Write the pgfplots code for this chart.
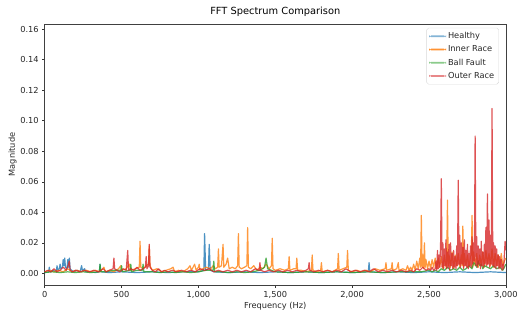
\documentclass[border=0pt]{standalone}
\usepackage{pgfplots}
\pgfplotsset{compat=1.18}
\usepackage{fontspec}
\setmainfont{DejaVu Sans}
\definecolor{tabblue}{HTML}{1F77B4}
\definecolor{taborange}{HTML}{FF7F0E}
\definecolor{tabgreen}{HTML}{2CA02C}
\definecolor{tabred}{HTML}{D62728}
\begin{document}
\begin{tikzpicture}
\begin{axis}[
  name=ax,
  scale only axis,
  width=464pt, height=263pt,
  xmin=0, xmax=3000,
  ymin=-0.0078, ymax=0.1635,
  xtick={0,500,1000,1500,2000,2500,3000},
  ytick={0,0.02,0.04,0.06,0.08,0.10,0.12,0.14,0.16},
  yticklabel style={/pgf/number format/fixed,/pgf/number format/precision=2,/pgf/number format/fixed zerofill},
  scaled y ticks=false,
  /pgf/number format/assume math mode=true,
  tick pos=left,
  tick align=outside,
  major tick length=2.5pt,
  tick style={black!80, line width=0.5pt},
  axis line style={black!75, line width=0.6pt},
  ticklabel style={font=\fontsize{8.3}{9}\selectfont, text=black!85},
  title={FFT Spectrum Comparison},
  title style={font=\fontsize{9.9}{11}\selectfont, yshift=-2pt},
  xlabel={Frequency (Hz)},
  ylabel={Magnitude},
  label style={font=\fontsize{8.3}{9}\selectfont, text=black!85},
  xlabel style={yshift=3pt},
  ylabel style={yshift=-3pt},
  legend style={at={(0.985,0.985)}, anchor=north east, draw=black!15, rounded corners=2pt,
    fill=white, font=\fontsize{8.3}{9}\selectfont, text=black!85,
    row sep=1.6pt, inner sep=2.5pt},
  legend cell align=left,
  legend image code/.code={\fill (0pt,-0.9pt) rectangle (17pt,0.9pt);},
  every axis plot/.append style={line width=1.2pt, draw opacity=0.8, line join=round},
]
\addlegendimage{fill=tabblue!55, draw=none}
\addlegendentry{Healthy}
\addlegendimage{fill=taborange!85, draw=none}
\addlegendentry{Inner Race}
\addlegendimage{fill=tabgreen!55, draw=none}
\addlegendentry{Ball Fault}
\addlegendimage{fill=tabred!55, draw=none}
\addlegendentry{Outer Race}
\addplot[tabblue, forget plot] table {
x y
0 0.0005
25 0.001
30 0.004
35 0.001
55 0.002
75 0.001
80 0.005
85 0.002
95 0.003
100 0.006
105 0.003
115 0.004
120 0.009
125 0.005
130 0.010
135 0.004
145 0.003
150 0.009
155 0.004
160 0.010
165 0.003
175 0.002
190 0.001
210 0.002
230 0.001
240 0.005
245 0.002
260 0.003
265 0.001
300 0.001
330 0.0005
355 0.001
360 0.006
365 0.001
420 0.0005
500 0.001
600 0.0005
700 0.001
800 0.0005
900 0.001
1000 0.001
1035 0.002
1040 0.026
1047 0.002
1065 0.003
1070 0.019
1077 0.002
1100 0.001
1200 0.0005
1300 0.001
1400 0.0005
1500 0.001
1600 0.0005
1700 0.001
1800 0.0005
1900 0.001
2000 0.0005
2105 0.001
2110 0.007
2115 0.001
2200 0.0005
2300 0.001
2400 0.0005
2500 0.001
2600 0.0005
2700 0.001
2800 0.0005
2900 0.001
3000 0.0005
};
\addplot[taborange, forget plot] table {
x y
0 0.001
30 0.002
60 0.001
90 0.002
120 0.001
150 0.003
180 0.001
210 0.002
240 0.001
270 0.002
300 0.001
330 0.002
360 0.001
385 0.004
395 0.001
420 0.002
450 0.001
480 0.003
495 0.005
500 0.002
530 0.003
550 0.006
560 0.002
590 0.003
615 0.004
620 0.021
625 0.004
640 0.003
660 0.005
675 0.006
680 0.018
685 0.005
700 0.002
730 0.003
760 0.001
790 0.002
820 0.003
835 0.004
845 0.001
870 0.002
900 0.001
930 0.003
945 0.005
955 0.002
975 0.006
985 0.002
1000 0.004
1005 0.006
1010 0.002
1030 0.003
1050 0.004
1080 0.003
1095 0.005
1110 0.003
1125 0.004
1130 0.016
1135 0.004
1150 0.005
1160 0.019
1165 0.004
1180 0.006
1190 0.010
1200 0.003
1220 0.004
1240 0.003
1255 0.005
1260 0.026
1265 0.004
1280 0.003
1300 0.004
1315 0.005
1320 0.030
1325 0.004
1340 0.003
1360 0.005
1380 0.002
1400 0.004
1420 0.003
1440 0.006
1460 0.003
1475 0.005
1480 0.023
1485 0.003
1500 0.002
1530 0.003
1560 0.002
1585 0.003
1590 0.011
1595 0.002
1620 0.003
1635 0.003
1640 0.010
1645 0.002
1670 0.002
1700 0.001
1735 0.002
1740 0.012
1745 0.002
1770 0.001
1795 0.002
1800 0.007
1805 0.001
1840 0.002
1870 0.001
1905 0.003
1910 0.013
1915 0.002
1940 0.003
1965 0.004
1970 0.015
1975 0.002
2000 0.001
2030 0.002
2060 0.001
2090 0.002
2120 0.001
2150 0.003
2180 0.002
2215 0.003
2220 0.007
2225 0.002
2255 0.003
2260 0.007
2265 0.002
2290 0.003
2300 0.007
2305 0.002
2330 0.003
2350 0.002
2360 0.005
2370 0.002
2380 0.004
2390 0.002
2400 0.006
2410 0.002
2420 0.008
2430 0.003
2440 0.010
2445 0.004
2450 0.038
2455 0.004
2460 0.012
2465 0.003
2470 0.020
2475 0.004
2480 0.009
2490 0.003
2500 0.008
2510 0.003
2520 0.009
2530 0.004
2540 0.010
2550 0.003
2560 0.010
2570 0.004
2580 0.011
2590 0.003
2600 0.012
2610 0.004
2615 0.008
2620 0.048
2625 0.005
2630 0.012
2640 0.004
2650 0.014
2660 0.003
2670 0.012
2680 0.005
2690 0.013
2700 0.004
2710 0.012
2715 0.005
2720 0.031
2725 0.004
2730 0.013
2740 0.005
2750 0.012
2760 0.004
2770 0.011
2775 0.012
2780 0.038
2785 0.004
2790 0.014
2800 0.005
2810 0.013
2820 0.004
2830 0.012
2840 0.005
2850 0.014
2860 0.004
2870 0.015
2880 0.006
2890 0.013
2900 0.005
2910 0.016
2920 0.004
2930 0.013
2940 0.005
2950 0.012
2960 0.004
2970 0.013
2980 0.005
2990 0.008
3000 0.010
};
\addplot[tabgreen, forget plot] table {
x y
0 0.0005
50 0.001
100 0.0005
150 0.001
200 0.0005
250 0.001
300 0.0005
355 0.001
360 0.006
365 0.001
400 0.001
450 0.002
495 0.002
500 0.005
505 0.001
555 0.002
560 0.006
565 0.001
600 0.002
635 0.002
640 0.006
645 0.001
700 0.001
750 0.0005
800 0.001
850 0.0005
900 0.001
950 0.0005
1000 0.001
1050 0.002
1095 0.002
1100 0.008
1105 0.001
1150 0.001
1200 0.0005
1250 0.001
1300 0.0005
1350 0.001
1400 0.002
1430 0.004
1440 0.010
1450 0.003
1500 0.001
1600 0.0005
1700 0.001
1800 0.0005
1900 0.001
2000 0.0005
2100 0.001
2200 0.0005
2300 0.001
2400 0.001
2450 0.001
2500 0.002
2520 0.001
2540 0.002
2560 0.001
2580 0.003
2600 0.002
2620 0.004
2640 0.002
2660 0.003
2680 0.002
2700 0.004
2720 0.002
2740 0.003
2760 0.005
2780 0.003
2790 0.007
2800 0.006
2810 0.004
2820 0.008
2830 0.005
2840 0.006
2850 0.003
2860 0.005
2880 0.004
2900 0.003
2920 0.005
2940 0.003
2960 0.004
2980 0.002
3000 0.006
};
\addplot[tabred, forget plot] table {
x y
0 0.001
20 0.002
40 0.001
60 0.003
80 0.001
100 0.002
120 0.004
140 0.002
155 0.006
160 0.008
165 0.002
180 0.001
200 0.002
230 0.001
260 0.002
290 0.001
320 0.002
350 0.001
380 0.003
400 0.001
420 0.002
445 0.003
450 0.010
455 0.003
470 0.002
490 0.001
510 0.003
530 0.002
540 0.015
545 0.002
560 0.003
580 0.002
600 0.004
620 0.002
640 0.003
655 0.004
660 0.011
665 0.003
675 0.005
680 0.019
685 0.004
700 0.002
720 0.001
740 0.003
760 0.001
780 0.002
800 0.001
830 0.002
860 0.001
890 0.002
920 0.001
950 0.002
980 0.001
1010 0.003
1040 0.002
1070 0.003
1100 0.001
1130 0.002
1160 0.001
1190 0.002
1220 0.001
1250 0.002
1280 0.001
1310 0.002
1340 0.001
1370 0.003
1395 0.002
1400 0.007
1405 0.002
1430 0.001
1460 0.002
1490 0.001
1520 0.002
1550 0.001
1580 0.002
1610 0.001
1640 0.002
1670 0.001
1700 0.002
1715 0.003
1720 0.007
1725 0.002
1750 0.001
1780 0.002
1810 0.001
1840 0.002
1870 0.001
1900 0.002
1930 0.001
1960 0.003
1990 0.001
2020 0.002
2050 0.001
2080 0.002
2110 0.001
2140 0.003
2170 0.001
2200 0.002
2230 0.001
2260 0.002
2290 0.001
2320 0.002
2350 0.001
2380 0.002
2400 0.001
2420 0.003
2440 0.002
2460 0.004
2480 0.002
2500 0.003
2510 0.002
2520 0.004
2530 0.002
2540 0.003
2545 0.008
2550 0.002
2555 0.015
2560 0.003
2565 0.012
2570 0.004
2575 0.018
2580 0.062
2585 0.004
2590 0.020
2595 0.003
2600 0.016
2605 0.005
2610 0.022
2615 0.003
2620 0.014
2625 0.004
2630 0.019
2635 0.002
2640 0.020
2645 0.005
2650 0.013
2655 0.003
2660 0.015
2665 0.004
2670 0.011
2675 0.003
2680 0.018
2685 0.005
2690 0.061
2695 0.006
2700 0.025
2705 0.004
2710 0.020
2715 0.006
2720 0.017
2725 0.003
2730 0.022
2735 0.005
2740 0.015
2745 0.004
2750 0.019
2755 0.003
2760 0.013
2765 0.005
2770 0.018
2775 0.004
2780 0.024
2785 0.006
2790 0.020
2795 0.008
2800 0.090
2805 0.005
2810 0.024
2815 0.004
2820 0.018
2825 0.006
2830 0.016
2835 0.003
2840 0.021
2845 0.005
2850 0.014
2855 0.004
2860 0.019
2865 0.006
2870 0.030
2875 0.005
2880 0.052
2885 0.006
2890 0.035
2895 0.004
2900 0.025
2905 0.006
2910 0.108
2915 0.005
2920 0.020
2925 0.004
2930 0.018
2935 0.003
2940 0.016
2945 0.005
2950 0.012
2955 0.003
2960 0.011
2965 0.004
2970 0.009
2975 0.002
2980 0.006
2985 0.003
2990 0.012
2995 0.021
3000 0.015
};
\end{axis}
\path ([shift={(-45pt,-33pt)}]ax.south west) rectangle ([shift={(12pt,24pt)}]ax.north east);
\end{tikzpicture}
\end{document}
